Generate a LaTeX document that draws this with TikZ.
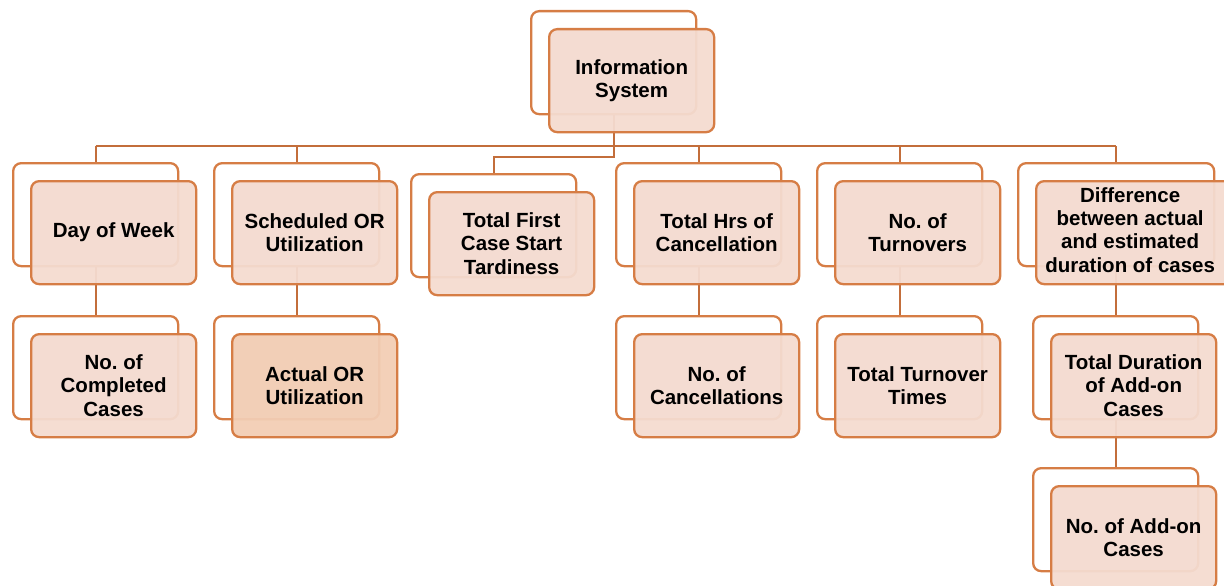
\documentclass[tikz,border=0pt]{standalone}
\usepackage{fontspec}
\setmainfont{Liberation Sans}
\frenchspacing
\definecolor{edge}{HTML}{D67D45}
\definecolor{wire}{HTML}{C36E3B}
\definecolor{pane}{HTML}{F4DBD0}
\definecolor{panedeep}{HTML}{F2CDB4}
\begin{document}
\begin{tikzpicture}[x=1pt,y=-1pt,
  backbox/.style={draw=edge, line width=2.3pt, rounded corners=8pt, fill=white,
    anchor=north west, minimum width=165pt, minimum height=103pt, inner sep=0pt},
  frontbox/.style={backbox, fill=pane, fill opacity=0.95, text opacity=1,
    font=\bfseries\fontsize{20.5}{23.3}\selectfont, align=center},
  wide/.style={minimum width=196pt},
  link/.style={draw=wire, line width=2.3pt}]
\useasboundingbox (0,0) rectangle (1224,586);

% back frames
\node[backbox] (b0) at (530,10) {};
\node[backbox] (b1) at (12,162) {};
\node[backbox] (b2) at (213,162) {};
\node[backbox] (b3) at (410,173) {};
\node[backbox] (b4) at (615,162) {};
\node[backbox] (b5) at (816,162) {};
\node[backbox,wide] (b6) at (1017,162) {};
\node[backbox] (b7) at (12,315) {};
\node[backbox] (b8) at (213,315) {};
\node[backbox] (b9) at (615,315) {};
\node[backbox] (b10) at (816,315) {};
\node[backbox] (b11) at (1032,315) {};
\node[backbox] (b12) at (1032,467) {};

% connectors
\coordinate (bus) at (0,146);
\coordinate (jog) at (0,157);
\draw[link] (b0.south) -- (b0.south |- jog) -| (b3.north);
\draw[link] (b1.north |- bus) -- (b6.north |- bus);
\foreach \k in {1,2,4,5,6}
  \draw[link] (b\k.north |- bus) -- (b\k.north);
\draw[link] (b1.south) -- (b7.north);
\draw[link] (b2.south) -- (b8.north);
\draw[link] (b4.south) -- (b9.north);
\draw[link] (b5.south) -- (b10.north);
\draw[link] (b6.south -| b11.north) -- (b11.north);
\draw[link] (b11.south) -- (b12.north);

% front panels with labels
\node[frontbox] (f0) at (548,28) {Information\\System};
\node[frontbox] (f1) at (30,180) {Day of Week};
\node[frontbox] (f2) at (231,180) {Scheduled OR\\Utilization};
\node[frontbox] (f3) at (428,191) {Total First\\Case Start\\Tardiness};
\node[frontbox] (f4) at (633,180) {Total Hrs of\\Cancellation};
\node[frontbox] (f5) at (834,180) {No. of\\Turnovers};
\node[frontbox,wide] (f6) at (1035,180) {\hspace*{-8pt}\begin{tabular}{@{}c@{}}Difference\\between actual\\and estimated\\duration of cases\end{tabular}};
\node[frontbox] (f7) at (30,333) {No. of\\Completed\\Cases};
\node[frontbox,fill=panedeep] (f8) at (231,333) {Actual OR\\Utilization};
\node[frontbox] (f9) at (633,333) {No. of\\Cancellations};
\node[frontbox] (f10) at (834,333) {Total Turnover\\Times};
\node[frontbox] (f11) at (1050,333) {Total Duration\\of Add-on\\Cases};
\node[frontbox] (f12) at (1050,485) {No. of Add-on\\Cases};
\end{tikzpicture}
\end{document}
